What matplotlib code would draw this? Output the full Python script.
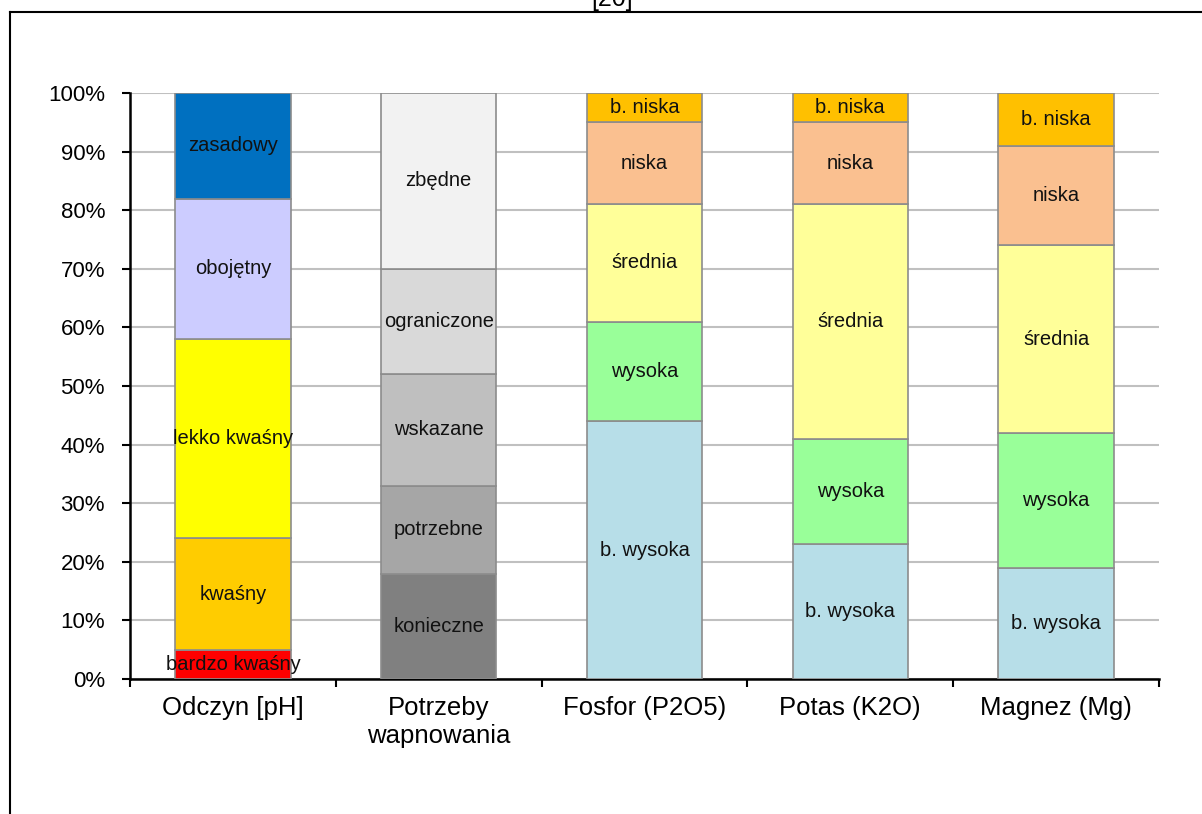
import matplotlib
matplotlib.use("Agg")
import matplotlib.pyplot as plt
from matplotlib.lines import Line2D
from matplotlib.ticker import FixedLocator, PercentFormatter

plt.rcParams["font.family"] = ["Liberation Sans", "DejaVu Sans"]

categories = ["Odczyn [pH]", "Potrzeby\nwapnowania", "Fosfor (P2O5)", "Potas (K2O)", "Magnez (Mg)"]

odczyn_labels = ["bardzo kwaśny", "kwaśny", "lekko kwaśny", "obojętny", "zasadowy"]
odczyn_values = [5, 19, 34, 24, 18]
odczyn_colors = ["#FF0000", "#FFCC00", "#FFFF00", "#CCCCFF", "#0070C0"]

wapnowanie_labels = ["konieczne", "potrzebne", "wskazane", "ograniczone", "zbędne"]
wapnowanie_values = [18, 15, 19, 18, 30]
wapnowanie_colors = ["#808080", "#A6A6A6", "#BFBFBF", "#D9D9D9", "#F2F2F2"]

zasobnosc_labels = ["b. wysoka", "wysoka", "średnia", "niska", "b. niska"]
zasobnosc_colors = ["#B7DEE8", "#99FF99", "#FFFF99", "#FAC090", "#FFC000"]
fosfor_values = [44, 17, 20, 14, 5]
potas_values = [23, 18, 40, 14, 5]
magnez_values = [19, 23, 32, 17, 9]

stacks = [
    (odczyn_labels, odczyn_values, odczyn_colors),
    (wapnowanie_labels, wapnowanie_values, wapnowanie_colors),
    (zasobnosc_labels, fosfor_values, zasobnosc_colors),
    (zasobnosc_labels, potas_values, zasobnosc_colors),
    (zasobnosc_labels, magnez_values, zasobnosc_colors),
]

fig = plt.figure(figsize=(12.02, 8.14), dpi=100)
ax = fig.add_axes([0.1082, 0.1658, 0.8560, 0.7199])

for i, (labels, values, colors) in enumerate(stacks):
    bottom = 0
    for lab, val, col in zip(labels, values, colors):
        ax.bar(i, val, bottom=bottom, width=0.56, color=col,
               edgecolor="#8C8C8C", linewidth=1.2, zorder=3)
        ax.text(i, bottom + val / 2, lab, ha="center", va="center",
                fontsize=14.5, color="#111111", zorder=4)
        bottom += val

ax.set_xlim(-0.5, len(categories) - 0.5)
ax.set_ylim(0, 100)
ax.yaxis.set_major_locator(FixedLocator(range(0, 101, 10)))
ax.yaxis.set_major_formatter(PercentFormatter(decimals=0))
ax.grid(axis="y", color="#C0C0C0", linewidth=1.5, zorder=0)

ax.set_xticks(range(len(categories)))
ax.set_xticklabels(categories, fontsize=18.5, linespacing=1.2)
ax.set_xticks([i - 0.5 for i in range(len(categories) + 1)], minor=True)
ax.tick_params(axis="x", which="major", length=0, pad=12)
ax.tick_params(axis="x", which="minor", length=6, width=1.5, direction="out")
ax.tick_params(axis="y", length=6, width=1.5, direction="out", pad=12, labelsize=16)

for side in ["top", "right"]:
    ax.spines[side].set_visible(False)
for side in ["left", "bottom"]:
    ax.spines[side].set_linewidth(1.8)

# chart area border, cut at the right and bottom of the image
x0 = 10 / 1202
y0 = 1 - 12 / 814
fig.add_artist(Line2D([x0, 1.01], [y0, y0], color="black", linewidth=1.5))
fig.add_artist(Line2D([x0, x0], [y0, -0.01], color="black", linewidth=1.5))

fig.text(612 / 1202, 1 - 6 / 814, "[20]", ha="center", va="baseline", fontsize=18)

fig.savefig("out.png", dpi=100)
